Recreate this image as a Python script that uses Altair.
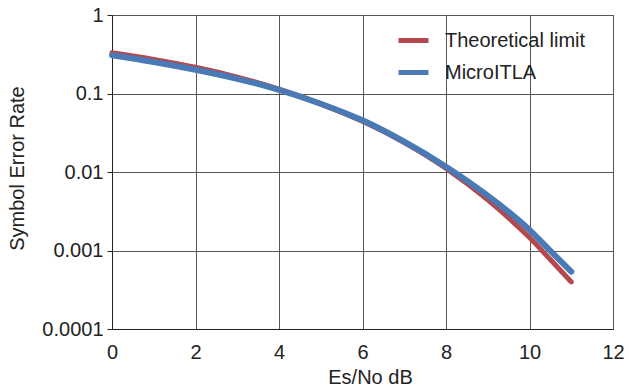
import altair as alt
import pandas as pd

es_no = [0, 1, 2, 3, 4, 5, 6, 7, 8, 9, 10, 10.5, 11]
theoretical = [0.331, 0.272, 0.216, 0.162, 0.1135, 0.0733, 0.0442, 0.0237, 0.0111, 0.00442, 0.00146, 0.000767, 0.000398]
microitla = [0.307, 0.252, 0.2005, 0.1538, 0.1114, 0.0741, 0.0455, 0.0243, 0.0117, 0.0050, 0.00183, 0.000989, 0.000537]
series_names = ["Theoretical limit", "MicroITLA"]
colors = ["#B5484C", "#4A7AB5"]
x_ticks = [0, 2, 4, 6, 8, 10, 12]
y_ticks = [0.0001, 0.001, 0.01, 0.1, 1]

rows = []
for name, vals in zip(series_names, [theoretical, microitla]):
    for xv, v in zip(es_no, vals):
        rows.append({"x": xv, "ser": v, "series": name})
df = pd.DataFrame(rows)

FONT = "Liberation Sans"
FS = 20

color = alt.Color(
    "series:N",
    scale=alt.Scale(domain=series_names, range=colors),
    legend=alt.Legend(
        title=None,
        orient="none",
        legendX=284,
        legendY=8,
        symbolType="stroke",
        symbolSize=900,
        symbolStrokeWidth=5,
        labelFontSize=FS,
        labelFont=FONT,
        labelColor="#222",
        labelOffset=14,
        rowPadding=4,
        padding=0,
        labelLimit=300,
    ),
)

xenc = alt.X(
    "x:Q",
    scale=alt.Scale(domain=[0, 12], nice=False),
    axis=alt.Axis(
        values=x_ticks,
        title="Es/No dB",
        ticks=False,
        tickSize=0,
        labelPadding=13,
        labelFontSize=FS,
        labelFont=FONT,
        labelColor="#222",
        titleFontSize=FS,
        titleFont=FONT,
        titleFontWeight="normal",
        titleColor="#222",
        titleX=258,
        titleY=54,
        titleBaseline="alphabetic",
        titleAlign="center",
        domainColor="#222",
        gridColor="#555",
        gridOpacity=1,
        labelFlush=False,
    ),
)

yenc = alt.Y(
    "ser:Q",
    scale=alt.Scale(type="log", domain=[0.0001, 1], nice=False),
    axis=alt.Axis(
        values=y_ticks,
        format="~g",
        title="Symbol Error Rate",
        tickSize=5,
        tickColor="#222",
        labelPadding=4,
        labelFontSize=FS,
        labelFont=FONT,
        labelColor="#222",
        titleFontSize=FS,
        titleFont=FONT,
        titleFontWeight="normal",
        titleColor="#222",
        titleX=-95,
        titleY=153,
        titleBaseline="middle",
        titleAlign="center",
        titleAngle=270,
        domainColor="#222",
        gridColor="#555",
        gridOpacity=1,
        labelFlush=False,
    ),
)

base = alt.Chart(df).encode(x=xenc, y=yenc, color=color)
red = base.transform_filter(alt.datum.series == "Theoretical limit").mark_line(
    strokeWidth=5, strokeCap="round", strokeJoin="round", interpolate="monotone"
)
blue = base.transform_filter(alt.datum.series == "MicroITLA").mark_line(
    strokeWidth=6, strokeCap="round", strokeJoin="round", interpolate="monotone"
)

chart = (
    alt.layer(red, blue)
    .properties(
        width=501,
        height=314,
        padding={"left": 112, "top": 15, "right": 16, "bottom": 60},
        autosize="none",
        background="white",
    )
    .configure_view(stroke="#222", strokeWidth=1)
)

chart.save("out.html", embed_options={"renderer": "svg", "actions": False})
